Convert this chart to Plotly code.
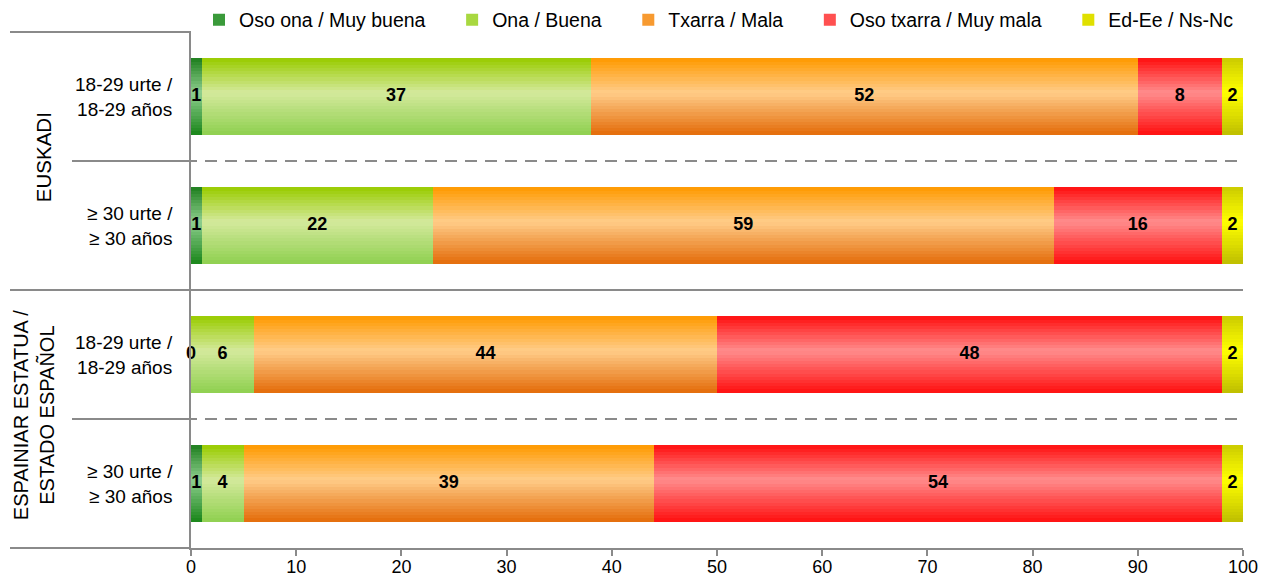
import plotly.graph_objects as go

# ---------------- data ----------------
categories = ["18-29 urte /<br>18-29 años", "≥ 30 urte /<br>≥ 30 años",
              "18-29 urte /<br>18-29 años", "≥ 30 urte /<br>≥ 30 años"]
groups = ["EUSKADI", "ESPAINIAR ESTATUA /<br>ESTADO ESPAÑOL"]
series_names = ["Oso ona / Muy buena", "Ona / Buena", "Txarra / Mala",
                "Oso txarra / Muy mala", "Ed-Ee / Ns-Nc"]
muy_buena = [1, 1, 0, 1]
buena = [37, 22, 6, 4]
mala = [52, 59, 44, 39]
muy_mala = [8, 16, 48, 54]
nsnc = [2, 2, 2, 2]
x_ticks = [0, 10, 20, 30, 40, 50, 60, 70, 80, 90, 100]

series_values = [muy_buena, buena, mala, muy_mala, nsnc]
# gradient colours: (top, middle, bottom)
gradients = [
    ("#1f7f1f", "#8fcf8f", "#1a861a"),
    ("#99cc00", "#d4e99c", "#8fd050"),
    ("#ff9a00", "#ffcc88", "#e46c0a"),
    ("#ff1010", "#ff8c8c", "#ff1010"),
    ("#cccc00", "#ffff00", "#bfbf00"),
]
legend_colors = ["#3a9a3a", "#a8d840", "#f79a30", "#ff5050", "#e0e000"]

FONT = "Liberation Sans, Arial, sans-serif"
L0, R0, T0, B0 = 191, 20, 32, 34
PW = 1263 - L0 - R0
PH = 582 - T0 - B0


def px_x(px):
    return (px - L0) / PW


def hex2rgb(h):
    h = h.lstrip("#")
    return tuple(int(h[i:i + 2], 16) for i in (0, 2, 4))


def mix(c1, c2, t):
    a, b = hex2rgb(c1), hex2rgb(c2)
    return "rgb(%d,%d,%d)" % tuple(round(a[i] + (b[i] - a[i]) * t) for i in range(3))


def grad_color(g, t, mid=0.45):
    top, m, bot = g
    if t <= mid:
        return mix(top, m, t / mid)
    return mix(m, bot, (t - mid) / (1 - mid))


ypos = list(range(len(categories)))
H = 0.59
K = 24
h = H / K

fig = go.Figure()

bases = [0] * len(categories)
label_x, label_y, label_t = [], [], []
for si, (name, vals) in enumerate(zip(series_names, series_values)):
    g = gradients[si]
    for k in range(K):
        t = (k + 0.5) / K
        w = h * 1.6 if k < K - 1 else h
        fig.add_trace(go.Bar(
            orientation="h", y=ypos, x=vals, base=list(bases),
            width=w, offset=-H / 2 + k * h,
            marker=dict(color=grad_color(g, t), line=dict(width=0)),
            name=name, legendgroup=name, showlegend=False, hoverinfo="skip",
        ))
    # legend entry (trailing spaces only widen the gap to the next entry)
    pad = "&nbsp;" * (4 if si < len(series_names) - 1 else 0)
    fig.add_trace(go.Bar(
        orientation="h", y=[None], x=[None], name=name + pad, legendgroup=name,
        marker=dict(color=legend_colors[si], line=dict(width=0)), showlegend=True,
    ))
    for i, v in enumerate(vals):
        label_x.append(bases[i] + v / 2)
        label_y.append(ypos[i])
        label_t.append(str(v))
    bases = [b + v for b, v in zip(bases, vals)]

fig.add_trace(go.Scatter(
    x=label_x, y=label_y, text=label_t, mode="text", showlegend=False,
    textfont=dict(family=FONT, size=18, color="#000000", weight="bold"),
    hoverinfo="skip", cliponaxis=False,
))

LC = "#8a8a8a"
shapes = []
left = px_x(10)
shapes.append(dict(type="line", xref="paper", yref="paper", x0=left, x1=0, y0=1, y1=1,
                   line=dict(color=LC, width=2)))
shapes.append(dict(type="line", xref="paper", yref="paper", x0=left, x1=0, y0=0, y1=0,
                   line=dict(color=LC, width=2)))
shapes.append(dict(type="line", xref="paper", yref="y", x0=left, x1=1, y0=1.5, y1=1.5,
                   line=dict(color=LC, width=2)))
for yv in (0.5, 2.5):
    shapes.append(dict(type="line", xref="paper", yref="y", x0=px_x(72), x1=0, y0=yv, y1=yv,
                       line=dict(color=LC, width=2)))
    shapes.append(dict(type="line", xref="paper", yref="y", x0=px_x(165), x1=1, y0=yv, y1=yv,
                       line=dict(color=LC, width=2, dash="12px,8px")))

annotations = []
for i, c in enumerate(categories):
    annotations.append(dict(xref="paper", yref="y", x=px_x(175), y=ypos[i], text=c,
                            xanchor="right", yanchor="middle", align="right", showarrow=False,
                            font=dict(family=FONT, size=19, color="#000000")))
annotations.append(dict(xref="paper", yref="y", x=px_x(43), y=0.47, text=groups[0],
                        textangle=-90, showarrow=False, xanchor="center", yanchor="middle",
                        font=dict(family=FONT, size=20.5, color="#000000")))
annotations.append(dict(xref="paper", yref="y", x=px_x(34), y=2.47, text=groups[1],
                        textangle=-90, showarrow=False, xanchor="center", yanchor="middle",
                        align="center",
                        font=dict(family=FONT, size=20, color="#000000")))

fig.update_layout(
    width=1263, height=582,
    margin=dict(l=L0, r=R0, t=T0, b=B0, pad=0, autoexpand=False),
    barmode="overlay",
    bargap=0,
    plot_bgcolor="white", paper_bgcolor="white",
    font=dict(family=FONT, size=19, color="#000000"),
    showlegend=True,
    legend=dict(orientation="h", x=px_x(199), y=1 + (T0 - 20) / PH, xanchor="left",
                yanchor="middle", font=dict(family=FONT, size=19.5, color="#000000"),
                traceorder="normal", itemwidth=30, bgcolor="rgba(0,0,0,0)"),
    shapes=shapes,
    annotations=annotations,
    xaxis=dict(range=[0, 100], tickvals=x_ticks, showgrid=False, zeroline=False,
               showline=True, linecolor=LC, linewidth=2, ticks="outside", ticklen=6,
               tickcolor=LC, tickwidth=2, ticklabelstandoff=-5,
               tickfont=dict(family=FONT, size=18, color="#000000")),
    yaxis=dict(range=[3.5, -0.5], showticklabels=False, showgrid=False, zeroline=False,
               showline=True, linecolor=LC, linewidth=2, ticks=""),
)

fig.write_html("out.html", config={"displayModeBar": False},
               post_script="document.body.style.margin='0';document.body.style.overflow='hidden';")
